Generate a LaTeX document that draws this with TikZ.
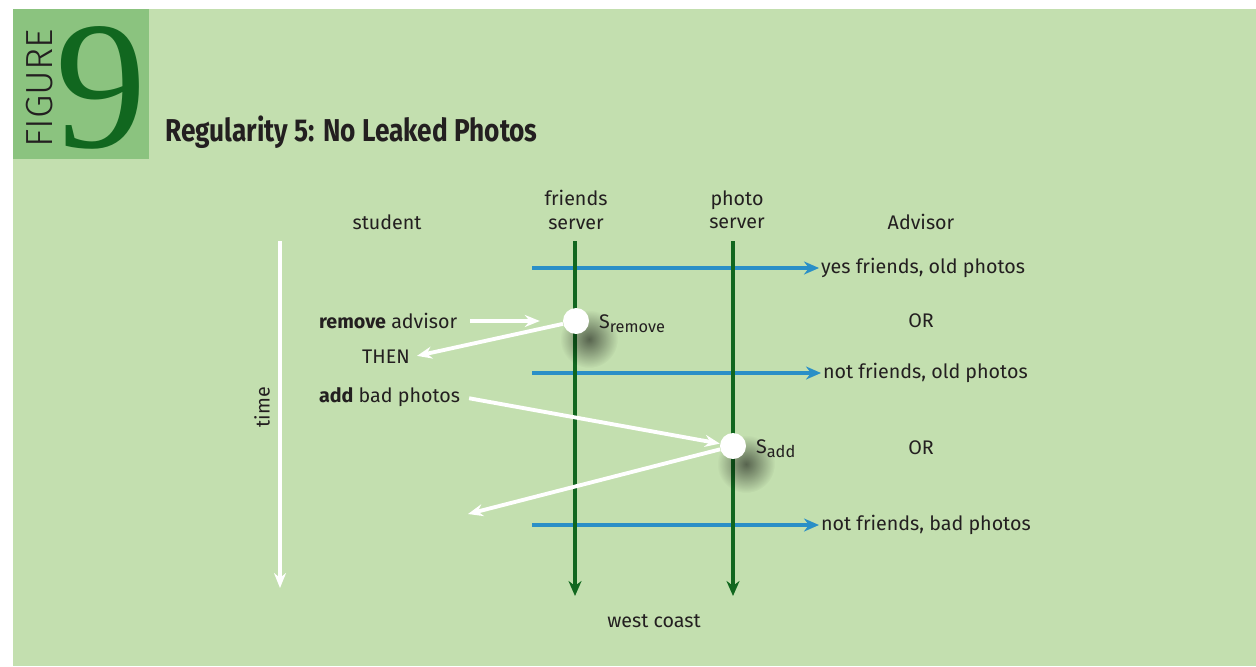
\documentclass[tikz,border=0pt]{standalone}
\usepackage{fontspec}
\setmainfont{Fira Sans}
\newfontfamily\titlefont[FakeStretch=0.83]{Fira Sans}
\newfontfamily\thinfont{Fira Sans Light}
\newfontfamily\numfont{Liberation Serif}
\usepackage{tikz}
\usetikzlibrary{arrows.meta,positioning,fadings}
\definecolor{bg}{HTML}{C3DFAF}
\definecolor{badge}{HTML}{8BC37F}
\definecolor{deep}{HTML}{11671F}
\definecolor{msgblue}{HTML}{2A8FC7}
\definecolor{ink}{HTML}{231F20}
\tikzfading[name=softdot, inner color=transparent!45, outer color=transparent!100]
\tikzset{
  lab/.style={text=ink, font=\fontsize{11.2}{13.2}\selectfont, inner sep=1pt, align=center},
  srv/.style={draw=deep, line width=2.3pt, -{Stealth[length=3mm,width=2.6mm]}},
  msg/.style={draw=msgblue, line width=2.3pt, -{Stealth[length=3mm,width=2.6mm]}},
  req/.style={draw=white, line width=2.2pt, -{Stealth[length=3mm,width=2.4mm,inset=1mm]}},
  evt/.style={circle, fill=white, minimum size=0.52cm, inner sep=0pt},
  blot/.style={fill=black, path fading=softdot},
}
\newcommand{\sub}[1]{{\fontsize{9.3}{10}\selectfont\raisebox{-0.45ex}{#1}}}

\begin{document}
\begin{tikzpicture}[x=0.02cm, y=-0.02cm]
\useasboundingbox (0,0) rectangle (1256,666);
% panel and badge
\fill[white] (0,0) rectangle (1256,666);
\fill[bg] (13,9) rectangle (1256,666);
\fill[badge] (13,9) rectangle (149,159);
\node[rotate=90, text=ink, inner sep=0pt, font=\thinfont\fontsize{21.5}{22}\selectfont] (figword) at (40,88) {FIGURE};
\node[text=deep, inner sep=0pt, font=\numfont\fontsize{104}{104}\selectfont] (fignum) at (101,88) {9};
\node[anchor=base west, text=ink, inner sep=0pt, font=\titlefont\bfseries\fontsize{18}{20}\selectfont] (title) at (165,141) {Regularity 5: No Leaked Photos};

% column heads
\node[lab] (student) at (387,222) {student};
\node[lab] (fsrv) at (576,210) {friends\\server};
\node[lab] (psrv) at (737,210) {photo\\server};
\node[lab] (advisor) at (921,222) {Advisor};

% end points
\coordinate (t0) at (280,241);
\coordinate (t1) at (280,588);
\coordinate (f0) at (575,241);
\coordinate (f1) at (575,596);
\coordinate (p0) at (733,241);
\coordinate (p1) at (733,596);
\coordinate (b1) at (532,268);
\coordinate (b2) at (532,373);
\coordinate (b3) at (532,525);
\coordinate (late) at (468,514);

% time axis
\draw[req] (t0) -- (t1);
\node[lab, rotate=90] (timelbl) at (262,407) {time};

% advisor views
\node[lab, anchor=west] (out1) at (819,268) {yes friends, old photos};
\node[lab] (or1) at (921,321) {OR};
\node[lab, anchor=west] (out2) at (821,373) {not friends, old photos};
\node[lab] (or2) at (921,448) {OR};
\node[lab, anchor=west] (out3) at (819,525) {not friends, bad photos};
\draw[msg] (b1) -- (out1.west);
\draw[msg] (b2) -- (out2.west);
\draw[msg] (b3) -- (out3.west);

% servers
\draw[srv] (f0) -- (f1);
\draw[srv] (p0) -- (p1);
\node[lab] (coast) at (654,621) {west coast};

% soft shadows under the events
\fill[blot] (589,339) circle (29);
\fill[blot] (746,464) circle (29);

% student actions
\node[lab, anchor=west] (rmtxt) at (317,321) {\textbf{remove} advisor};
\node[lab] (then) at (386,357) {THEN};
\node[lab, anchor=west] (addtxt) at (317,397) {\textbf{add} bad photos};
\node[evt] (srm) at (576,321) {};
\node[evt] (sadd) at (733,446) {};
\node[lab, anchor=west] (srmlbl) at (597,324) {S\sub{remove}};
\node[lab, anchor=west] (saddlbl) at (754,449) {S\sub{add}};
\draw[req, shorten <=6pt, shorten >=13pt] (rmtxt.east) -- (srm.west);
\draw[req, shorten >=3pt] (srm) -- (then.east);
\draw[req, shorten <=4pt] (addtxt.east) -- (sadd);
\draw[req] (sadd) -- (late);
\end{tikzpicture}
\end{document}
